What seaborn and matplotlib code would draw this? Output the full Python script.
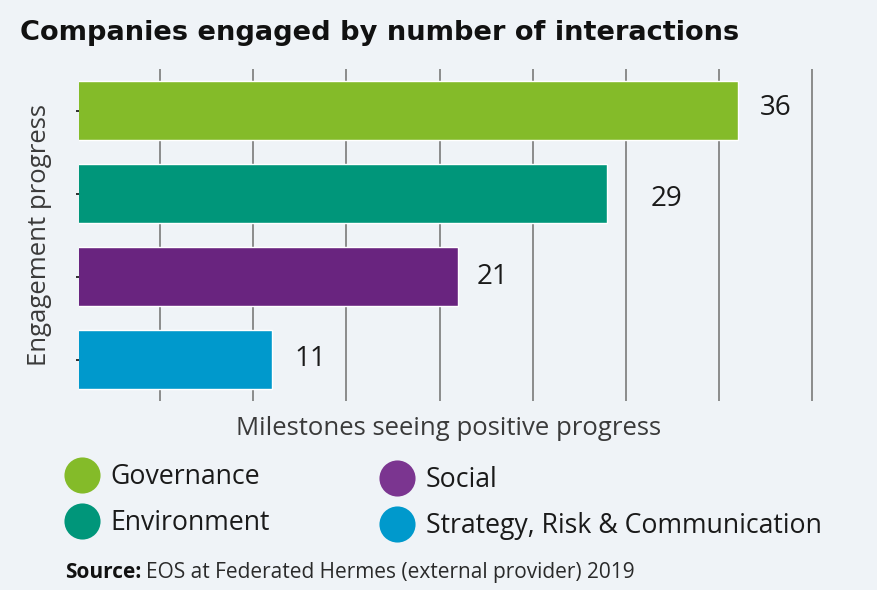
import matplotlib
matplotlib.use("Agg")
import matplotlib.pyplot as plt
import seaborn as sns
import pandas as pd
from matplotlib.lines import Line2D

# ---- data ----
categories = ["Governance", "Environment", "Social", "Strategy, Risk & Communication"]
values = [36, 29, 21, 11]
bar_colors = ["#84bb29", "#00967a", "#69247f", "#0099cc"]
legend_colors = ["#84bb29", "#00967a", "#7b3590", "#0099cc"]
grid_ticks = [5, 10, 15, 20, 25, 30, 35, 40]

title = "Companies engaged by number of interactions"
xlabel = "Milestones seeing positive progress"
ylabel = "Engagement progress"
source_bold = "Source:"
source_text = "EOS at Federated Hermes (external provider) 2019"

# label offsets (points) -- styling only
label_dx = [16, 31, 13, 16]
label_dy = [2, -4, 0, 0]

BG = "#eff3f7"
W, H = 877, 590

sns.set_theme(style="white")
plt.rcParams["font.family"] = ["Open Sans", "DejaVu Sans"]

fig = plt.figure(figsize=(W / 100, H / 100), dpi=100, facecolor=BG)
ax = fig.add_axes([79 / W, 1 - 401 / H, (813 - 79) / W, (401 - 69) / H])
ax.set_facecolor(BG)

df = pd.DataFrame({"category": categories, "value": values})
sns.barplot(data=df, x="value", y="category", hue="category", palette=bar_colors,
            orient="h", width=0.72, legend=False, ax=ax, saturation=1)

ax.set_xlim(0.64, 40.05)
ax.set_xticks(grid_ticks)
ax.set_axisbelow(True)
ax.grid(axis="x", color="#7a7a7a", linewidth=1.2)
ax.grid(axis="y", visible=False)
for s in ax.spines.values():
    s.set_visible(False)
ax.tick_params(axis="x", length=0, labelbottom=False)
ax.tick_params(axis="y", left=True, length=2.5, width=1.3, color="#222222", labelleft=False)

for i, (v, dx, dy) in enumerate(zip(values, label_dx, label_dy)):
    ax.annotate(str(v), xy=(v, i), xytext=(dx, dy), textcoords="offset points",
                ha="left", va="center", fontsize=20, color="#1a1a1a")

ax.set_xlabel(xlabel, fontsize=18.5, color="#3a3a3a")
ax.xaxis.set_label_coords(0.503, -0.045)
ax.set_ylabel(ylabel, fontsize=18.5, color="#3a3a3a")
ax.yaxis.set_label_coords(-0.037, 0.5)

fig.text(20 / W, 1 - 40 / H, title, fontsize=19.6, fontweight="bold", family="DejaVu Sans",
         color="#111111", va="baseline", ha="left")

# legends (two columns)
def make_handles(idx):
    return [Line2D([], [], marker="o", linestyle="none", markersize=26,
                   markerfacecolor=legend_colors[i], markeredgecolor="none") for i in idx]

leg_kw = dict(frameon=False, loc="upper left", borderpad=0, borderaxespad=0,
              fontsize=19.2, handlelength=1.3, handletextpad=0.42, labelspacing=0.67,
              labelcolor="#1a1a1a")
leg1 = fig.legend(make_handles([0, 1]), categories[0:2],
                  bbox_to_anchor=(65 / W, 1 - 463 / H), **leg_kw)
leg2 = fig.legend(make_handles([2, 3]), categories[2:4],
                  bbox_to_anchor=(380 / W, 1 - 466 / H), **leg_kw)

# source line
fig.canvas.draw()
r = fig.canvas.get_renderer()
t1 = fig.text(65 / W, 1 - 578 / H, source_bold, fontsize=15, fontweight="bold",
              color="#111111", va="baseline", ha="left")
bb = t1.get_window_extent(renderer=r)
fig.text(bb.x1 / W + 5 / W, 1 - 578 / H, source_text, fontsize=15,
         color="#2a2a2a", va="baseline", ha="left")

fig.savefig("out.png", dpi=100, facecolor=BG)
